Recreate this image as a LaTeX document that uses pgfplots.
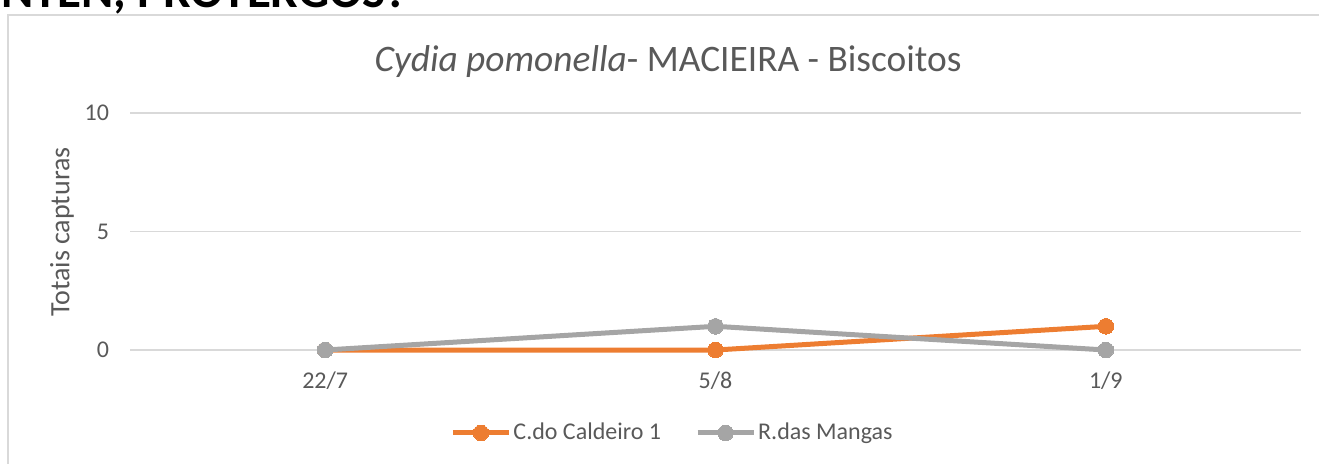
\documentclass[border=0pt]{standalone}
\usepackage{pgfplots}
\pgfplotsset{compat=1.18}
\usepackage{fontspec}
\setmainfont{Carlito}
\definecolor{cOrange}{HTML}{ED7D31}
\definecolor{cGray}{HTML}{A5A5A5}
\definecolor{cText}{HTML}{595959}
\definecolor{cGrid}{HTML}{D9D9D9}
\begin{document}
\begin{tikzpicture}
\useasboundingbox (0,0) rectangle (659.5pt,231.5pt);
\clip (0,0) rectangle (659.5pt,231.5pt);
% cropped heading above the chart
\node[anchor=base west, inner sep=0pt, font=\fontsize{24.5}{28}\selectfont\bfseries] at (-29pt,228pt) {CONTEN, PROTERGOS?};
% chart frame
\draw[cGrid, line width=0.75pt] (4pt,-10pt) rectangle (680pt,224pt);
\begin{axis}[
  at={(65pt,56.5pt)}, anchor=south west,
  scale only axis, width=585.5pt, height=118.5pt,
  xmin=-0.5, xmax=2.5, ymin=0, ymax=10,
  xtick={0,1,2}, xticklabels={22/7,5/8,1/9},
  ytick={0,5,10},
  axis line style={draw=none},
  major tick length=0pt,
  ymajorgrids, grid style={cGrid, line width=0.75pt},
  tick label style={font=\fontsize{12}{14}\selectfont, text=cText},
  /pgf/number format/assume math mode=true,
  yticklabel style={xshift=-7pt},
  xticklabel style={yshift=-7.5pt},
  clip=false,
  legend columns=2,
  legend style={at={(0.4633,-0.350)}, anchor=center, draw=none, fill=none,
    font=\fontsize{12}{14}\selectfont, text=cText,
    nodes={inner sep=1pt},
    /tikz/every even column/.append style={column sep=16pt}},
  legend cell align=left,
  legend image code/.code={
    \draw[mark repeat=2,mark phase=2] plot coordinates {(0pt,0pt)(14pt,0pt)(28pt,0pt)};
  },
]
\addplot[cOrange, line width=2.5pt, mark=*, mark size=3.9pt, mark options={solid, fill=cOrange, draw=cOrange, line width=0pt}]
  coordinates {(0,0) (1,0) (2,1)};
\addlegendentry{C.do Caldeiro 1}
\addplot[cGray, line width=2.5pt, mark=*, mark size=3.9pt, mark options={solid, fill=cGray, draw=cGray, line width=0pt}]
  coordinates {(0,0) (1,1) (2,0)};
\addlegendentry{R.das Mangas}
\end{axis}
\node[text=cText, font=\fontsize{18.7}{22}\selectfont] at (334pt,200.5pt) {\textit{Cydia pomonella}- MACIEIRA - Biscoitos};
\node[text=cText, font=\fontsize{14}{17}\selectfont, rotate=90] at (31pt,115.5pt) {Totais capturas};
\end{tikzpicture}
\end{document}
